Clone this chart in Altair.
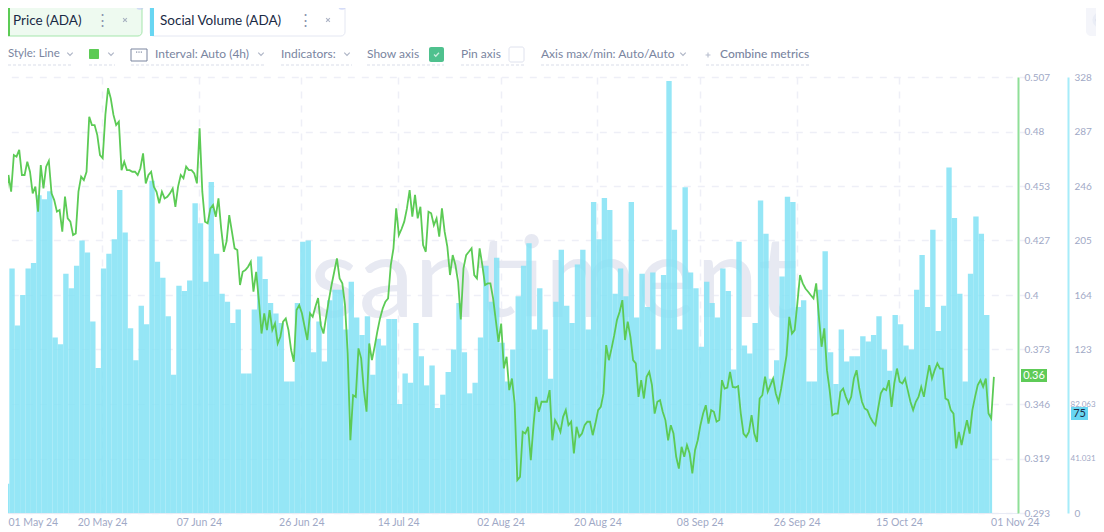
import altair as alt
import pandas as pd

FONT = "Lato"

# ---------- data ----------
volume_values = [
22,184,141,164,184,188,239,236,242,132,127,180,169,186,205,196,144,109,184,195,206,243,211,139,115,156,142,250,189,177,148,104,
171,167,175,233,218,174,249,195,165,159,143,153,105,105,153,193,176,158,150,143,99,99,158,204,205,121,144,114,160,168,168,138,
174,147,134,148,104,131,126,146,146,82,105,98,143,118,96,111,79,89,106,123,158,121,90,98,132,186,159,192,128,99,123,163,
186,203,138,169,138,101,159,198,156,143,187,198,138,234,206,237,228,165,184,163,234,147,180,155,181,123,179,325,213,138,245,181,
169,125,174,158,147,184,167,108,204,126,120,143,235,210,101,115,178,238,234,155,160,99,99,168,197,121,97,138,114,118,118,133,
129,134,148,123,107,149,142,126,123,168,194,155,213,137,156,260,222,165,99,180,223,210,149,75]

price_values = [
.4499,.445,.4589,.4507,.4687,.4679,.4712,.4589,.4589,.4654,.4605,.4499,.4532,.4409,.4638,.4523,.463,.4658,.4499,.4466,.4409,.4417,.4311,.4483,
.4376,.436,.4294,.4302,.4507,.4581,.4564,.4605,.4875,.4834,.4834,.4785,.4687,.4671,.4884,.5015,.4965,.4884,.4834,.4851,.4613,.4654,.4613,.4613,
.4605,.4605,.4589,.4622,.4695,.4548,.4589,.4605,.4532,.4507,.445,.4507,.4474,.4482,.4499,.4523,.4433,.4532,.4589,.4573,.463,.4613,.4613,.4597,
.4548,.4818,.4507,.436,.4352,.4425,.4442,.4384,.4474,.4327,.4212,.4262,.4392,.4311,.4229,.4221,.4049,.4114,.4122,.4139,.4163,.4016,.4114,.3975,
.3811,.391,.3828,.3926,.3828,.386,.3762,.3795,.3869,.3885,.3828,.3729,.3672,.3926,.395,.391,.3844,.3779,.391,.3893,.3942,.3985,.3852,.3811,
.3893,.3975,.4049,.4114,.418,.4081,.4057,.395,.3713,.3287,.3508,.35,.3738,.3689,.3533,.3427,.3762,.368,.3746,.382,.3885,.3934,.3967,.3983,
.4147,.4229,.4425,.4294,.4324,.436,.4425,.4515,.4385,.4491,.4376,.4433,.4245,.4212,.4409,.4401,.4343,.4376,.4286,.4425,.4311,.4237,.4098,.4196,
.4147,.4065,.388,.4131,.4196,.4212,.4229,.4098,.4081,.4229,.4147,.4049,.4057,.4057,.3983,.3877,.377,.386,.364,.3697,.3533,.359,.3468,.3091,
.3107,.3328,.332,.3353,.3189,.3361,.35,.3427,.3476,.3476,.3476,.3533,.3287,.3386,.3361,.3328,.3402,.3435,.3361,.3378,.3222,.3353,.3304,.332,
.3361,.3378,.3378,.3312,.3369,.3435,.3451,.3517,.3754,.368,.3738,.3803,.3877,.3918,.3975,.3779,.3869,.3795,.368,.3664,.35,.3582,.3492,.3599,
.3623,.3558,.3418,.3476,.3484,.3427,.3386,.3287,.3361,.332,.3206,.3148,.3255,.3206,.3263,.3222,.3124,.3238,.3287,.3361,.3418,.3459,.3369,.3435,
.3427,.3378,.3386,.3582,.3541,.3546,.3623,.3549,.3546,.3553,.3418,.332,.3304,.3328,.341,.332,.3279,.3492,.3508,.3599,.3525,.3558,.359,.3517,
.3476,.3541,.3623,.3705,.3893,.3811,.3828,.3959,.4098,.4057,.4032,.4016,.3999,.3983,.4057,.3893,.3746,.3836,.3631,.3533,.341,.3418,.3418,.3525,
.3541,.35,.3468,.35,.359,.3631,.3541,.3476,.3443,.3435,.3402,.3378,.3361,.3443,.3517,.3541,.3533,.3582,.3451,.3566,.3639,.3574,.3566,.359,
.3533,.3476,.3435,.3476,.35,.3549,.35,.3582,.3656,.359,.3631,.3664,.3639,.3639,.3492,.3484,.3435,.3418,.3247,.3328,.3263,.3328,.3386,.332,
.3435,.35,.3558,.3582,.3549,.359,.3418,.3394,.3598]

price_ticks = [0.293, 0.31975, 0.3465, 0.37325, 0.4, 0.42675, 0.4535, 0.48025, 0.507]
price_labels = ["0.293", "0.319", "0.346", "0.373", "0.4", "0.427", "0.453", "0.48", "0.507"]
volume_ticks = [0, 41, 82, 123, 164, 205, 246, 287, 328]
volume_labels = ["0", "41.031", "82.063", "123", "164", "205", "246", "287", "328"]
date_ticks = [(5, 1), (5, 20), (6, 7), (6, 26), (7, 14), (8, 2), (8, 20), (9, 8), (9, 26), (10, 15), (11, 1)]

# ---------- tables ----------
bar_start = pd.date_range("2024-05-01 19:00", periods=len(volume_values), freq="D")
bar_end = bar_start + pd.Timedelta(days=1)
bar_end = bar_end.where(bar_end < bar_end[-1], bar_start[-1] + pd.Timedelta(hours=12))
bars = pd.DataFrame({"start": bar_start, "end": bar_end, "volume": volume_values, "base": 0})
line = pd.DataFrame({
    "time": pd.date_range("2024-05-01 15:00", periods=len(price_values), freq="12h"),
    "price": price_values,
})
one = pd.DataFrame({"a": [0]})

# ---------- helpers: page pixels -> plot pixels ----------
OX, OY = 8, 77
LABEL = "#9fa9c6"
MUTED = "#7a859f"
DARK = "#1a2a44"
NARROW = "datum.value == 41 || datum.value == 82"


def text(s, x, y, size=12, color=MUTED, align="left", weight=400, font=FONT):
    return alt.Chart(one).mark_text(
        text=s, align=align, baseline="middle", fontSize=size, color=color,
        fontWeight=weight, font=font,
    ).encode(x=alt.value(x - OX), y=alt.value(y - OY))


def box(x1, y1, x2, y2, fill="white", stroke=None, radius=0, sw=1):
    kw = dict(fill=fill, cornerRadius=radius)
    if stroke:
        kw.update(stroke=stroke, strokeWidth=sw)
    return alt.Chart(one).mark_rect(**kw).encode(
        x=alt.value(x1 - OX), x2=alt.value(x2 - OX),
        y=alt.value(y1 - OY), y2=alt.value(y2 - OY),
    )


def hrule(x1, x2, y, color="#d9dde9", dash=(3, 2), sw=1):
    return alt.Chart(one).mark_rule(color=color, strokeDash=list(dash), strokeWidth=sw).encode(
        x=alt.value(x1 - OX), x2=alt.value(x2 - OX), y=alt.value(y - OY))


def glyph(path, x, y, size=30, color="#8a94ad", sw=1.1, filled=False):
    kw = dict(shape=path, size=size, filled=filled, strokeWidth=sw)
    if filled:
        kw.update(fill=color)
    else:
        kw.update(stroke=color)
    return alt.Chart(one).mark_point(**kw).encode(x=alt.value(x - OX), y=alt.value(y - OY))


CHEVRON = "M-1,-0.5L0,0.5L1,-0.5"
CROSS = "M-1,-1L1,1M-1,1L1,-1"
CHECK = "M-1,0L-0.3,0.7L1,-0.7"
PLUS = "M-1,0L1,0M0,-1L0,1"
NOTCHES = "M-1,-1L-1,-0.2M0,-1L0,-0.2M1,-1L1,-0.2"

# ---------- main marks ----------
x_scale = alt.Scale(
    domain=[alt.DateTime(year=2024, month=5, date=1),
            alt.DateTime(year=2024, month=11, date=6, hours=2, minutes=24)],
    range=[-8.3, 1010],
)
x_axis = alt.Axis(
    values=[alt.DateTime(year=2024, month=m, date=d) for m, d in date_ticks],
    format="%d %b %y", title=None, ticks=False, grid=True, labelOverlap=False,
    labelColor=LABEL, labelFont=FONT, labelFontSize=10.5, labelPadding=4,
    domainColor="#e8ebf5", domainWidth=1,
    gridColor="#eeeff7", gridDash=[7, 7], gridWidth=1.5,
    gridOpacity={"condition": {"test": "datum.value >= datetime(2024,9,20)", "value": 0}, "value": 1},
    labelAlign={"condition": {"test": "datum.value < datetime(2024,4,3) || datum.value >= datetime(2024,9,20)", "value": "left"}, "value": "center"},
    labelOffset={"condition": {"test": "datum.value < datetime(2024,4,3)", "value": 8.3}, "value": 0},
)

bar_layer = alt.Chart(bars).mark_bar(color="#83e2f5", opacity=0.85).encode(
    x=alt.X("start:T", scale=x_scale, axis=x_axis),
    x2="end:T",
    y=alt.Y("volume:Q", scale=alt.Scale(domain=[0, 328], nice=False), axis=alt.Axis(
        orient="right", offset=50, title=None, values=volume_ticks, grid=False, ticks=False,
        labelExpr="[" + ",".join(f"'{s}'" for s in volume_labels) + "][round(datum.value/41)]",
        labelColor=LABEL, labelFont=FONT,
        labelFontSize={"condition": {"test": NARROW, "value": 8}, "value": 10},
        labelPadding={"condition": {"test": NARROW, "value": 2}, "value": 6},
        domainColor="#a6ecf9", domainWidth=2,
    )),
    y2="base:Q",
)

line_layer = alt.Chart(line).mark_line(color="#5ccb55", strokeWidth=1.8).encode(
    x=alt.X("time:T", scale=x_scale),
    y=alt.Y("price:Q", scale=alt.Scale(domain=[0.293, 0.507], nice=False, zero=False), axis=alt.Axis(
        orient="right", title=None, values=price_ticks, grid=True, ticks=False,
        labelExpr="[" + ",".join(f"'{s}'" for s in price_labels) + "][round((datum.value-0.293)/0.02675)]",
        labelColor=LABEL, labelFont=FONT, labelFontSize=10, labelPadding=6,
        domainColor="#8fdf98", domainWidth=2,
        gridColor="#eeeff7", gridDash=[7, 7], gridWidth=1.5,
    )),
)

watermark = alt.Chart(one).mark_text(
    text="santiment", align="left", baseline="alphabetic", fontSize=112, color="#e7e9f2",
    font=FONT, fontWeight=400,
).encode(x=alt.value(310 - OX), y=alt.value(317 - OY))

tags = [
    box(1021, 369, 1047, 382, fill="#5ecb57"),
    text("0.36", 1034, 376, size=11, color="white", align="center"),
    box(1071, 407, 1088, 420, fill="#68d6f2"),
    text("75", 1079.5, 414, size=11, color=DARK, align="center"),
]

chrome = [
    # metric chips
    box(3, 4, 142, 36, fill="#eefaf0", stroke="#a5e6ac", radius=4),
    box(3, 4, 10, 36, fill="#5ccb55"),
    text("Price (ADA)", 13, 20.5, size=13.5, color=DARK),
    text("⋮", 102, 20, size=15, color="#8a94ad", align="center"),
    glyph(CROSS, 125, 20, size=14),
    box(150, 4, 345, 36, fill="white", stroke="#e4e7f2", radius=4),
    box(150, 4, 154, 36, fill="#68d6f2"),
    text("Social Volume (ADA)", 160, 20.5, size=13.5, color=DARK),
    text("⋮", 305, 20, size=15, color="#8a94ad", align="center"),
    glyph(CROSS, 328, 20, size=14),
    glyph("circle", 140, 6, size=60, color="#c3cdf5", filled=True),
    glyph("circle", 140, 6, size=14, color="#3a56cf", filled=True),
    glyph("circle", 342, 6, size=60, color="#c3cdf5", filled=True),
    glyph("circle", 342, 6, size=14, color="#3a56cf", filled=True),
    # toolbar
    text("Style: Line", 8, 54, size=11.5),
    glyph(CHEVRON, 70, 54),
    hrule(8, 73, 65),
    box(89, 49, 99, 59, fill="#5ccb55", radius=1),
    glyph(CHEVRON, 111, 54),
    hrule(89, 115, 65),
    box(131, 49, 147, 61, fill="white", stroke="#7a859f"),
    glyph(NOTCHES, 139, 53.5, size=22, color="#7a859f"),
    text("Interval: Auto (4h)", 155, 54),
    glyph(CHEVRON, 261, 54),
    hrule(131, 266, 65),
    text("Indicators:", 281, 54),
    glyph(CHEVRON, 347, 54),
    hrule(281, 352, 65),
    text("Show axis", 367, 54),
    box(429, 47, 444, 62, fill="#4fc18e", radius=2),
    glyph(CHECK, 436.5, 54.5, size=24, color="white", sw=1.4),
    hrule(367, 444, 65),
    text("Pin axis", 461, 54),
    box(509, 47, 524, 62, fill="white", stroke="#dfe2ee", radius=2),
    hrule(461, 524, 65),
    text("Axis max/min: Auto/Auto", 541, 54),
    glyph(CHEVRON, 683, 54),
    hrule(541, 688, 65),
    glyph(PLUS, 708, 55, size=24, color="#9aa3ba"),
    text("Combine metrics", 720, 54, weight=500),
    hrule(706, 809, 65),
    # top-right control
    box(1086, 4, 1110, 36, fill="#f4f5fa", radius=5),
    glyph("circle", 1100, 20, size=230, color="#e6e9f3", filled=True),
    glyph("circle", 1100, 20, size=70, color="#a0aaca", filled=True),
]

chart = alt.layer(watermark, bar_layer, line_layer, *tags, *chrome).resolve_scale(
    y="independent"
).properties(
    width=1010,
    height=436,
    autosize="none",
    padding={"left": 0, "top": 69, "right": 78, "bottom": 15},
    background="white",
).configure_view(stroke=None)

chart.save("out.html", embed_options={"renderer": "svg", "actions": False})
